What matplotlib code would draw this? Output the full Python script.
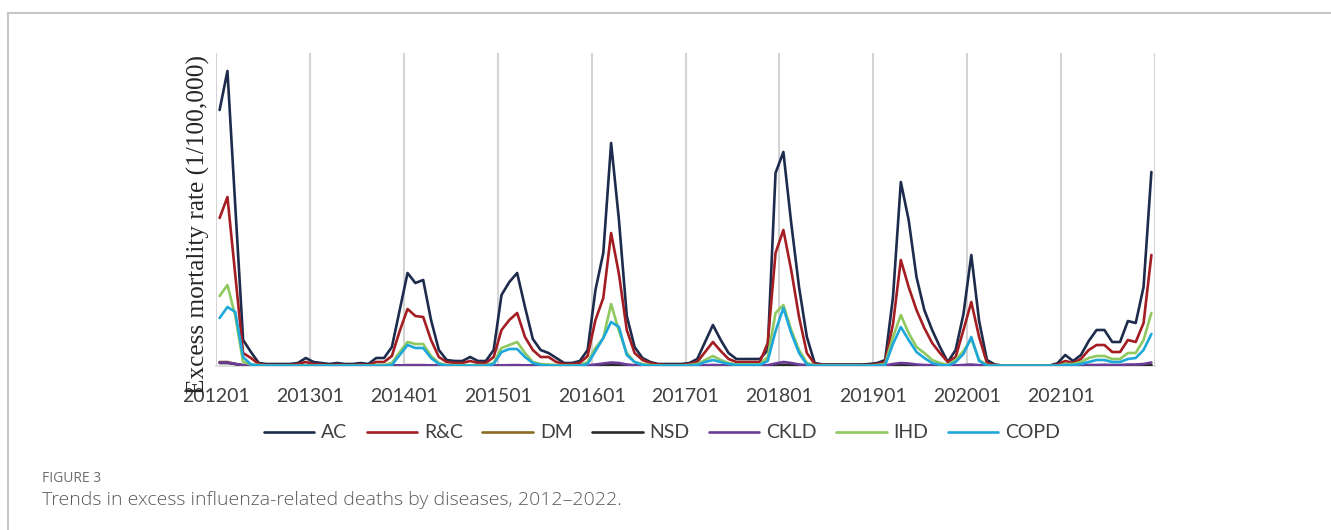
import matplotlib
matplotlib.use("Agg")
import matplotlib.pyplot as plt
from matplotlib.patches import Rectangle

# ----------------------------- data ------------------------------------------
# monthly excess mortality, Jan 2012 .. Dec 2021 (120 months)
months = [f"{y}{m:02d}" for y in range(2012, 2022) for m in range(1, 13)]
year_labels = ["201201", "201301", "201401", "201501", "201601",
               "201701", "201801", "201901", "202001", "202101"]

AC = [
    25.6, 29.5, 16.0, 2.6, 1.4, 0.3, 0.2, 0.2, 0.2, 0.2, 0.3, 0.8,
    0.4, 0.3, 0.2, 0.3, 0.2, 0.2, 0.3, 0.2, 0.8, 0.8, 1.9, 5.6,
    9.3, 8.3, 8.6, 4.6, 1.6, 0.6, 0.5, 0.5, 0.9, 0.5, 0.5, 1.6,
    7.1, 8.4, 9.3, 5.9, 2.7, 1.6, 1.3, 0.8, 0.3, 0.3, 0.5, 1.6,
    7.6, 11.3, 22.3, 14.6, 5.0, 1.9, 0.8, 0.4, 0.2, 0.2, 0.2, 0.2,
    0.3, 0.7, 2.4, 4.1, 2.6, 1.3, 0.7, 0.7, 0.7, 0.7, 1.6, 19.3,
    21.4, 14.3, 7.9, 2.9, 0.3, 0.15, 0.15, 0.15, 0.15, 0.15, 0.15, 0.2,
    0.3, 0.6, 6.9, 18.4, 14.6, 8.9, 5.6, 3.6, 1.9, 0.4, 1.6, 5.2,
    11.1, 4.5, 0.6, 0.15, 0.05, 0.05, 0.05, 0.05, 0.05, 0.05, 0.05, 0.27,
    1.1, 0.5, 1.1, 2.5, 3.6, 3.6, 2.4, 2.4, 4.5, 4.3, 7.9, 19.4,
]
RC = [
    14.8, 16.9, 9.1, 1.3, 0.8, 0.2, 0.1, 0.1, 0.1, 0.1, 0.2, 0.4,
    0.2, 0.15, 0.1, 0.15, 0.1, 0.1, 0.15, 0.1, 0.4, 0.4, 1.0, 3.5,
    5.7, 5.0, 4.9, 2.6, 0.9, 0.4, 0.3, 0.3, 0.5, 0.3, 0.3, 0.9,
    3.6, 4.6, 5.3, 2.9, 1.6, 0.9, 0.9, 0.4, 0.2, 0.2, 0.3, 1.0,
    4.6, 6.8, 13.3, 9.2, 3.6, 1.3, 0.6, 0.3, 0.15, 0.1, 0.1, 0.1,
    0.2, 0.4, 1.4, 2.4, 1.5, 0.7, 0.4, 0.4, 0.4, 0.4, 2.3, 11.3,
    13.6, 9.6, 4.9, 1.3, 0.2, 0.1, 0.1, 0.1, 0.1, 0.1, 0.1, 0.1,
    0.2, 0.4, 4.2, 10.6, 7.9, 5.6, 3.8, 2.3, 1.3, 0.4, 0.9, 3.6,
    6.4, 2.9, 0.3, 0.1, 0.03, 0.03, 0.03, 0.03, 0.03, 0.03, 0.03, 0.15,
    0.5, 0.3, 0.7, 1.6, 2.1, 2.1, 1.4, 1.4, 2.6, 2.4, 4.3, 11.1,
]
DM = [
    0.4, 0.4, 0.2, 0.05, 0.03, 0.03, 0.03, 0.03, 0.03, 0.03, 0.03, 0.03,
    0.03, 0.03, 0.03, 0.03, 0.03, 0.03, 0.03, 0.03, 0.03, 0.03, 0.03, 0.05,
    0.08, 0.08, 0.08, 0.05, 0.03, 0.03, 0.03, 0.03, 0.03, 0.03, 0.03, 0.03,
    0.06, 0.07, 0.08, 0.05, 0.03, 0.03, 0.03, 0.03, 0.03, 0.03, 0.03, 0.03,
    0.07, 0.1, 0.15, 0.1, 0.05, 0.03, 0.03, 0.03, 0.03, 0.03, 0.03, 0.03,
    0.03, 0.03, 0.03, 0.05, 0.03, 0.03, 0.03, 0.03, 0.03, 0.03, 0.03, 0.1,
    0.12, 0.1, 0.05, 0.03, 0.03, 0.03, 0.03, 0.03, 0.03, 0.03, 0.03, 0.03,
    0.03, 0.03, 0.05, 0.1, 0.08, 0.05, 0.03, 0.03, 0.03, 0.03, 0.03, 0.03,
    0.06, 0.03, 0.03, 0.03, 0.03, 0.03, 0.03, 0.03, 0.03, 0.03, 0.03, 0.03,
    0.03, 0.03, 0.03, 0.03, 0.04, 0.04, 0.03, 0.03, 0.04, 0.04, 0.05, 0.1,
]
NSD = [
    0.3, 0.3, 0.2, 0.05, 0.02, 0.02, 0.02, 0.02, 0.02, 0.02, 0.02, 0.02,
    0.02, 0.02, 0.02, 0.02, 0.02, 0.02, 0.02, 0.02, 0.02, 0.02, 0.02, 0.04,
    0.06, 0.06, 0.06, 0.04, 0.02, 0.02, 0.02, 0.02, 0.02, 0.02, 0.02, 0.02,
    0.05, 0.05, 0.06, 0.04, 0.02, 0.02, 0.02, 0.02, 0.02, 0.02, 0.02, 0.02,
    0.05, 0.08, 0.12, 0.08, 0.04, 0.02, 0.02, 0.02, 0.02, 0.02, 0.02, 0.02,
    0.02, 0.02, 0.02, 0.04, 0.02, 0.02, 0.02, 0.02, 0.02, 0.02, 0.02, 0.08,
    0.1, 0.08, 0.04, 0.02, 0.02, 0.02, 0.02, 0.02, 0.02, 0.02, 0.02, 0.02,
    0.02, 0.02, 0.04, 0.08, 0.06, 0.04, 0.02, 0.02, 0.02, 0.02, 0.02, 0.02,
    0.05, 0.02, 0.02, 0.02, 0.02, 0.02, 0.02, 0.02, 0.02, 0.02, 0.02, 0.02,
    0.02, 0.02, 0.02, 0.02, 0.03, 0.03, 0.02, 0.02, 0.03, 0.03, 0.04, 0.08,
]
CKLD = [
    0.35, 0.35, 0.2, 0.1, 0.05, 0.05, 0.05, 0.05, 0.05, 0.05, 0.05, 0.05,
    0.05, 0.05, 0.05, 0.05, 0.05, 0.05, 0.05, 0.05, 0.05, 0.05, 0.05, 0.06,
    0.08, 0.08, 0.08, 0.07, 0.05, 0.05, 0.05, 0.05, 0.05, 0.05, 0.05, 0.05,
    0.07, 0.08, 0.08, 0.07, 0.05, 0.05, 0.05, 0.05, 0.05, 0.05, 0.05, 0.06,
    0.15, 0.25, 0.35, 0.3, 0.15, 0.08, 0.05, 0.05, 0.05, 0.05, 0.05, 0.05,
    0.05, 0.05, 0.08, 0.1, 0.08, 0.05, 0.05, 0.05, 0.05, 0.05, 0.08, 0.25,
    0.4, 0.3, 0.15, 0.08, 0.05, 0.05, 0.05, 0.05, 0.05, 0.05, 0.05, 0.05,
    0.05, 0.06, 0.2, 0.3, 0.25, 0.15, 0.1, 0.08, 0.05, 0.05, 0.06, 0.1,
    0.15, 0.08, 0.05, 0.03, 0.03, 0.03, 0.03, 0.03, 0.03, 0.03, 0.03, 0.03,
    0.05, 0.05, 0.08, 0.1, 0.1, 0.12, 0.1, 0.1, 0.15, 0.15, 0.2, 0.35,
]
IHD = [
    7.0, 8.1, 5.0, 0.4, 0.15, 0.1, 0.05, 0.05, 0.05, 0.05, 0.05, 0.08,
    0.05, 0.05, 0.05, 0.05, 0.05, 0.05, 0.05, 0.05, 0.1, 0.1, 0.3, 1.4,
    2.4, 2.2, 2.2, 1.0, 0.3, 0.1, 0.08, 0.08, 0.08, 0.08, 0.08, 0.3,
    1.8, 2.1, 2.4, 1.3, 0.4, 0.2, 0.15, 0.1, 0.05, 0.05, 0.05, 0.4,
    1.8, 2.8, 6.2, 3.5, 1.3, 0.4, 0.2, 0.1, 0.05, 0.05, 0.05, 0.05,
    0.1, 0.2, 0.6, 1.0, 0.6, 0.3, 0.15, 0.15, 0.15, 0.15, 0.9, 5.3,
    6.1, 3.6, 1.6, 0.3, 0.08, 0.05, 0.05, 0.05, 0.05, 0.05, 0.05, 0.05,
    0.1, 0.2, 2.9, 5.1, 3.3, 1.9, 1.3, 0.6, 0.3, 0.1, 0.6, 1.5,
    2.7, 0.6, 0.1, 0.03, 0.03, 0.03, 0.03, 0.03, 0.03, 0.03, 0.03, 0.03,
    0.2, 0.2, 0.4, 0.8, 1.0, 1.0, 0.7, 0.7, 1.3, 1.3, 2.6, 5.3,
]
COPD = [
    4.8, 5.9, 5.4, 0.9, 0.15, 0.05, 0.03, 0.03, 0.03, 0.03, 0.03, 0.03,
    0.03, 0.03, 0.03, 0.03, 0.03, 0.03, 0.03, 0.03, 0.03, 0.03, 0.1, 1.1,
    2.1, 1.8, 1.8, 0.8, 0.2, 0.05, 0.03, 0.03, 0.03, 0.03, 0.03, 0.2,
    1.4, 1.7, 1.7, 0.9, 0.3, 0.1, 0.05, 0.03, 0.03, 0.03, 0.03, 0.2,
    1.5, 2.8, 4.4, 3.9, 1.1, 0.4, 0.1, 0.03, 0.03, 0.03, 0.03, 0.03,
    0.05, 0.1, 0.4, 0.6, 0.4, 0.2, 0.1, 0.1, 0.1, 0.1, 0.5, 3.5,
    5.8, 3.3, 1.3, 0.15, 0.03, 0.03, 0.03, 0.03, 0.03, 0.03, 0.03, 0.03,
    0.05, 0.1, 2.2, 3.9, 2.6, 1.4, 0.8, 0.3, 0.1, 0.05, 0.4, 1.2,
    2.9, 0.5, 0.05, 0.03, 0.03, 0.03, 0.03, 0.03, 0.03, 0.03, 0.03, 0.03,
    0.1, 0.1, 0.2, 0.4, 0.6, 0.6, 0.4, 0.4, 0.7, 0.8, 1.6, 3.2,
]

series = [("AC", AC, "#1d2b4c"), ("R&C", RC, "#a31d22"), ("DM", DM, "#8a6b22"),
          ("NSD", NSD, "#2a2a2a"), ("CKLD", CKLD, "#6b3d98"),
          ("IHD", IHD, "#8fc85e"), ("COPD", COPD, "#1ea7d9")]

# ----------------------------- figure ----------------------------------------
W, H = 1331, 530
fig = plt.figure(figsize=(W / 100, H / 100), dpi=100)
ax = fig.add_axes([215.7 / W, 1 - 366 / H, (1155.3 - 215.7) / W, (366 - 53) / H])

x = list(range(len(months)))
for name, vals, col in series:
    ax.plot(x, vals, color=col, lw=1.9, label=name,
            solid_joinstyle="round", solid_capstyle="round", zorder=3)

# category gridlines (between tick marks, Excel style)
for k in range(11):
    ax.axvline(12 * k - 0.5, color="#d4d4d4", lw=1.5, zorder=1)

ax.set_xlim(-0.5, 119.5)
ax.set_ylim(0, 31.3)
ax.set_yticks([])
ax.set_xticks([12 * k - 0.5 for k in range(10)])
ax.set_xticklabels(year_labels, family="Lato", fontsize=14, color="#404040")
ax.tick_params(axis="x", length=0, pad=16)
for s in ("top", "left", "right"):
    ax.spines[s].set_visible(False)
ax.spines["bottom"].set_color("#d9d9d9")
ax.spines["bottom"].set_linewidth(1.2)

# y label sits over the first tick label, as in the source figure
fig.text(198 / W, 1 - 225 / H, "Excess mortality rate (1/100,000)",
         rotation=90, ha="center", va="center", family="Liberation Serif",
         fontsize=18.2, color="#262626", zorder=5)

fig.legend(loc="center", bbox_to_anchor=(662 / W, 1 - 433 / H), ncol=7,
           frameon=False, prop={"family": "Lato", "size": 14},
           labelcolor="#404040", handlelength=2.6, handletextpad=0.35,
           columnspacing=1.0)

# outer frame and caption
fig.add_artist(Rectangle((8 / W, -0.1), 1.2, 1 - 13 / H + 0.1,
                         transform=fig.transFigure, fill=False,
                         ec="#c6c6c6", lw=1.5))
fig.text(42 / W, 1 - 478 / H, "FIGURE 3", family="Open Sans", fontsize=10,
         color="#6e6e6e", va="center")
fig.text(42 / W, 1 - 500 / H,
         "Trends in excess influenza-related deaths by diseases, 2012\u20132022.",
         family="Open Sans", fontweight="light", fontsize=14,
         color="#5a5a5a", va="center")

fig.savefig("out.png", dpi=100)
